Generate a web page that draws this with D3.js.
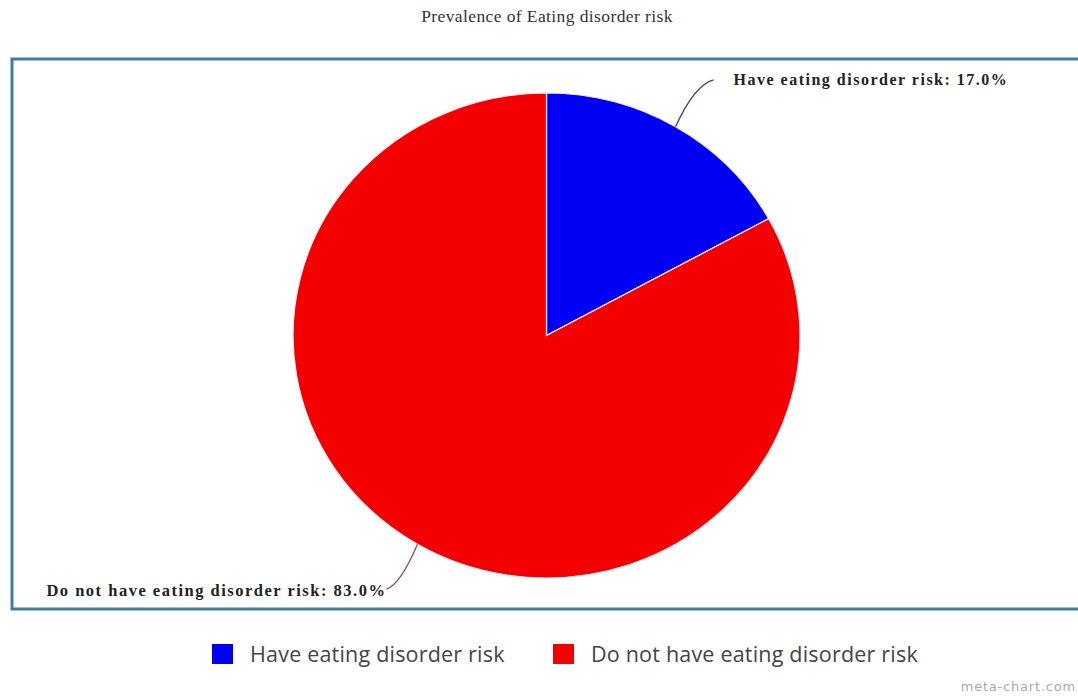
<!DOCTYPE html>
<html>
<head>
<meta charset="utf-8">
<script src="https://cdn.jsdelivr.net/npm/d3@7"></script>
<style>
  html, body { margin: 0; padding: 0; background: #ffffff; }
  svg { display: block; }
</style>
</head>
<body>
<svg id="chart" width="1078" height="696"></svg>
<script>
const categories = ["Have eating disorder risk", "Do not have eating disorder risk"];
const values = [17.0, 83.0];
const colors = ["#0000f4", "#f40000"];
const title = "Prevalence of Eating disorder risk";

const svg = d3.select("#chart");

// title
svg.append("text")
  .attr("x", 547).attr("y", 22)
  .attr("text-anchor", "middle")
  .attr("font-family", "'Liberation Serif', 'DejaVu Serif', serif")
  .attr("font-size", 17.5)
  .attr("letter-spacing", 0.4)
  .attr("fill", "#333")
  .text(title);

// frame
svg.append("rect")
  .attr("x", 12).attr("y", 59)
  .attr("width", 1080).attr("height", 550)
  .attr("fill", "#ffffff")
  .attr("stroke", "#3f7cab")
  .attr("stroke-width", 3);

const cx = 546.5, cy = 335.5, rx = 253.5, ry = 242.5;
const g = svg.append("g").attr("transform", `translate(${cx},${cy}) scale(${rx/ry},1)`);

const pie = d3.pie().sort(null).value(d => d)(values);
const arc = d3.arc().innerRadius(0).outerRadius(ry);

g.selectAll("path.slice")
  .data(pie)
  .join("path")
  .attr("class", "slice")
  .attr("d", arc)
  .attr("fill", (d, i) => colors[i])
  .attr("stroke", "#f4eef8")
  .attr("stroke-width", 1.2);

// labels with curved leader lines
const fmt = d3.format(".1f");
const labelCfg = [
  { dx: 38, dy: -47, cdx: 19, cdy: -42, tx: 20, ty: 5, anchor: "start", size: 16 },
  { dx: -31, dy: 45, cdx: -17, cdy: 40, tx: 0, ty: 7, anchor: "end", size: 16.5 }
];

pie.forEach((d, i) => {
  const a = (d.startAngle + d.endAngle) / 2;
  const px = cx + rx * Math.sin(a);
  const py = cy - ry * Math.cos(a);
  const c = labelCfg[i];
  const ex = px + c.dx, ey = py + c.dy;
  svg.append("path")
    .attr("d", `M${px},${py} Q${px + c.cdx},${py + c.cdy} ${ex},${ey}`)
    .attr("fill", "none")
    .attr("stroke", i === 0 ? "#3a3a8a" : "#9a4a5a")
    .attr("stroke-width", 1.3);
  svg.append("text")
    .attr("x", ex + c.tx).attr("y", ey + c.ty)
    .attr("text-anchor", c.anchor)
    .attr("font-family", "'Liberation Serif', 'DejaVu Serif', serif")
    .attr("font-weight", "bold")
    .attr("font-size", c.size)
    .attr("letter-spacing", 1.5)
    .attr("fill", "#222")
    .text(`${categories[i]}: ${fmt(values[i])}%`);
});

// legend
const legend = svg.append("g").attr("transform", "translate(212,644)");
const legendX = [0, 341];
categories.forEach((c, i) => {
  const lg = legend.append("g").attr("transform", `translate(${legendX[i]},0)`);
  lg.append("rect").attr("width", 21).attr("height", 20).attr("fill", colors[i]);
  lg.append("text")
    .attr("x", 38).attr("y", 18)
    .attr("font-family", "'Open Sans', 'DejaVu Sans', sans-serif")
    .attr("font-size", 21.5)
    .attr("letter-spacing", 0.2)
    .attr("fill", "#444")
    .text(c);
});

// watermark
svg.append("text")
  .attr("x", 1076).attr("y", 691)
  .attr("text-anchor", "end")
  .attr("font-family", "'DejaVu Sans', sans-serif")
  .attr("font-size", 13)
  .attr("letter-spacing", 0.8)
  .attr("fill", "#aaa")
  .text("meta-chart.com");
</script>
</body>
</html>
